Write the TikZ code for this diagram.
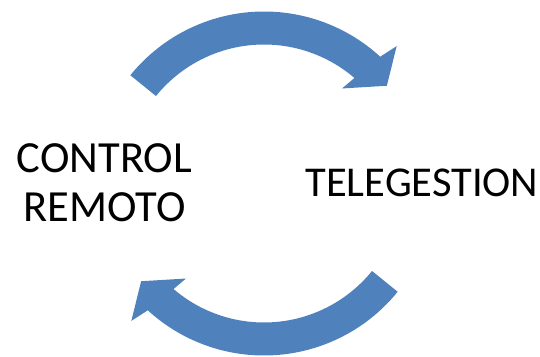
\documentclass[tikz,border=0pt]{standalone}
\usepackage{fontspec}
\setmainfont{Carlito}
\definecolor{arrowblue}{HTML}{4F81BD}
\begin{document}
\begin{tikzpicture}[x=1pt,y=1pt,
  cyclearrow/.style={fill=arrowblue,draw=none},
  label/.style={font=\fontsize{44.5}{49}\selectfont,inner sep=0pt,anchor=base,text=black}]
\useasboundingbox (-264,-172.5) rectangle (276,183.5);
\coordinate (c) at (0,0);
% top arrow
\fill[cyclearrow] (141:172) arc[start angle=141,end angle=47.5,radius=172]
  -- (46:191) -- (38.5:157) -- (50.6:123) -- (49.4:139)
  arc[start angle=49.4,end angle=141,radius=139] -- cycle;
% bottom arrow (point symmetric)
\fill[cyclearrow] (321:172) arc[start angle=321,end angle=227.5,radius=172]
  -- (226:191) -- (218.5:157) -- (230.6:123) -- (229.4:139)
  arc[start angle=229.4,end angle=321,radius=139] -- cycle;
\node[label] (control) at (-159.5,11.5) {CONTROL};
\node[label] (remoto) at (-159.5,-37.5) {REMOTO};
\node[label,font=\fontsize{42.5}{49}\selectfont] (tele) at (158,-12.5) {TELEGESTION};
\end{tikzpicture}
\end{document}
